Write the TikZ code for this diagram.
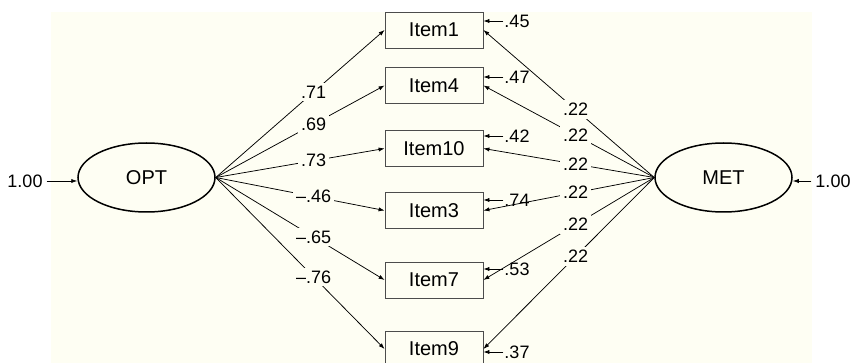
\documentclass[tikz,border=0pt]{standalone}
\usepackage{fontspec}
\setmainfont{Liberation Sans}
\usetikzlibrary{arrows.meta,shapes.geometric}
\definecolor{cream}{RGB}{254,254,243}
\tikzset{
  item/.style={draw=black!70, line width=0.8pt, fill=cream, minimum width=98pt,
    minimum height=36pt, inner sep=0pt, font=\fontsize{20}{22}\selectfont},
  latent/.style={ellipse, draw, line width=1.5pt, minimum width=137pt,
    minimum height=69pt, inner sep=0pt, font=\fontsize{20}{22}\selectfont},
  coef/.style={fill=cream, inner sep=3pt, font=\fontsize{18}{19}\selectfont},
  err/.style={inner sep=1pt, font=\fontsize{18}{19}\selectfont},
  path/.style={-{Latex[length=6pt,width=4.2pt]}, line width=0.75pt},
}
\begin{document}
\begin{tikzpicture}[x=1pt,y=-1pt]
  \useasboundingbox (0,0) rectangle (852,363);
  \fill[cream] (51,12) rectangle (812,363);

  \node[latent] (opt) at (146.5,177.5) {OPT};
  \node[latent] (met) at (723.5,177.5) {MET};

  \node[item] (i1) at (434,30) {Item1};
  \node[item] (i4) at (434,85.5) {Item4};
  \node[item] (i10) at (434,148.5) {Item10};
  \node[item] (i3) at (434,210.5) {Item3};
  \node[item] (i7) at (434,280) {Item7};
  \node[item] (i9) at (434,349) {Item9};

  % variances of the factors
  \node[err, inner sep=4pt] (optvar) at (25,181) {1.00};
  \node[err, inner sep=4pt] (metvar) at (833,181) {1.00};
  \draw[path] (optvar.east) -- (optvar.east -| opt.west);
  \draw[path] (metvar.west) -- (metvar.west -| met.east);

  % loadings on OPT
  \draw[path] (opt.east) -- node[coef, pos=0.58] {.71} (i1.west);
  \draw[path] (opt.east) -- node[coef, pos=0.58] {.69} (i4.west);
  \draw[path] (opt.east) -- node[coef, pos=0.58] {.73} (i10.west);
  \draw[path] (opt.east) -- node[coef, pos=0.58] {--.46} (i3.west);
  \draw[path] (opt.east) -- node[coef, pos=0.58] {--.65} (i7.west);
  \draw[path] (opt.east) -- node[coef, pos=0.58] {--.76} (i9.west);

  % loadings on MET
  \draw[path] (met.west) -- node[coef, pos=0.46] {.22} (i1.east);
  \draw[path] (met.west) -- node[coef, pos=0.46] {.22} (i4.east);
  \draw[path] (met.west) -- node[coef, pos=0.46] {.22} (i10.east);
  \draw[path] (met.west) -- node[coef, pos=0.46] {.22} (i3.east);
  \draw[path] (met.west) -- node[coef, pos=0.46] {.22} (i7.east);
  \draw[path] (met.west) -- node[coef, pos=0.46] {.22} (i9.east);

  % error terms
  \node[err] (e1) at (517,21) {.45};
  \node[err] (e4) at (517,77) {.47};
  \node[err] (e10) at (517,136) {.42};
  \node[err] (e3) at (517,200) {.74};
  \node[err] (e7) at (517,269) {.53};
  \node[err] (e9) at (517,352) {.37};
  \draw[path] (e1.west) -- (e1.west -| i1.east);
  \draw[path] (e4.west) -- (e4.west -| i4.east);
  \draw[path] (e10.west) -- (e10.west -| i10.east);
  \draw[path] (e3.west) -- (e3.west -| i3.east);
  \draw[path] (e7.west) -- (e7.west -| i7.east);
  \draw[path] (e9.west) -- (e9.west -| i9.east);
\end{tikzpicture}
\end{document}
